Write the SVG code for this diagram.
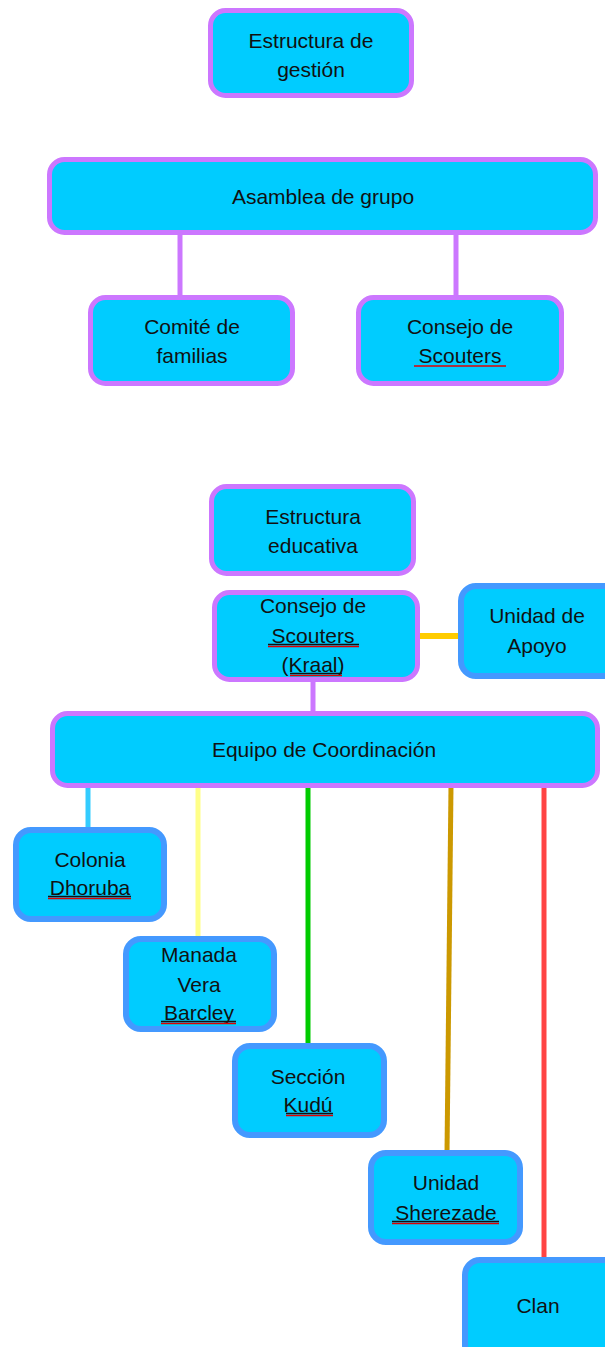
<svg xmlns="http://www.w3.org/2000/svg" width="605" height="1347" viewBox="0 0 605 1347">
<style>
.np{fill:#00CCFF;stroke:#CC77FF;stroke-width:5}
.nb{fill:#00CCFF;stroke:#4499FF;stroke-width:6}
text{font-family:"Liberation Sans",Arial,sans-serif;font-size:21px;fill:#111;text-anchor:middle}
.ul{stroke:#111;stroke-width:1.3}
.sp{stroke:#E00000;stroke-width:1.5}
.cp{stroke:#CC77FF;stroke-width:5;fill:none}
</style>
<rect width="605" height="1347" fill="#fff"/>
<g id="connectors">
<line class="cp" x1="180" y1="234" x2="180" y2="298"/>
<line class="cp" x1="456" y1="234" x2="456" y2="298"/>
<line class="cp" x1="313" y1="680" x2="313" y2="714"/>
<line x1="418" y1="636" x2="462" y2="636" stroke="#FFCC00" stroke-width="6"/>
<line x1="88" y1="786" x2="88" y2="830" stroke="#33CCFF" stroke-width="5"/>
<line x1="198" y1="786" x2="198" y2="939" stroke="#FFFF88" stroke-width="5"/>
<line x1="308" y1="786" x2="308" y2="1046" stroke="#00CC00" stroke-width="5"/>
<line x1="451" y1="786" x2="447" y2="1153" stroke="#CC9900" stroke-width="5"/>
<line x1="544" y1="786" x2="544" y2="1260" stroke="#FF4444" stroke-width="5"/>
</g>
<g id="estructura-gestion">
<rect class="np" x="210.5" y="10.5" width="201" height="85" rx="15"/>
<text x="311" y="48">Estructura de</text>
<text x="311" y="77">gestión</text>
</g>
<g id="asamblea">
<rect class="np" x="49.5" y="159.5" width="546" height="73" rx="15"/>
<text x="323" y="204">Asamblea de grupo</text>
</g>
<g id="comite">
<rect class="np" x="90.5" y="297.5" width="202" height="86" rx="15"/>
<text x="192" y="334">Comité de</text>
<text x="192" y="363">familias</text>
</g>
<g id="consejo-gestion">
<rect class="np" x="358.5" y="297.5" width="203" height="86" rx="15"/>
<text x="460" y="334">Consejo de</text>
<text x="460" y="363">Scouters</text>
<line class="sp" x1="414" y1="366" x2="506" y2="366"/>
</g>
<g id="estructura-educativa">
<rect class="np" x="211.5" y="486.5" width="202" height="87" rx="15"/>
<text x="313" y="524">Estructura</text>
<text x="313" y="553">educativa</text>
</g>
<g id="kraal">
<rect class="np" x="214.5" y="592.5" width="203" height="87" rx="15"/>
<text x="313" y="613">Consejo de</text>
<text x="313" y="643">Scouters</text>
<text x="313" y="672">(Kraal)</text>
<line class="ul" x1="268" y1="644.5" x2="359" y2="644.5"/>
<line class="sp" x1="268" y1="646.5" x2="359" y2="646.5"/>
<line class="ul" x1="290" y1="673.5" x2="342" y2="673.5"/>
<line class="sp" x1="290" y1="675.5" x2="342" y2="675.5"/>
</g>
<g id="unidad-apoyo">
<rect class="nb" x="461" y="586" width="170" height="90" rx="15"/>
<text x="537" y="623">Unidad de</text>
<text x="537" y="653">Apoyo</text>
</g>
<g id="equipo">
<rect class="np" x="52.5" y="713.5" width="545" height="72" rx="15"/>
<text x="324" y="757">Equipo de Coordinación</text>
</g>
<g id="colonia">
<rect class="nb" x="16" y="830" width="148" height="89" rx="15"/>
<text x="90" y="867">Colonia</text>
<text x="90" y="895">Dhoruba</text>
<line class="ul" x1="48" y1="896.5" x2="131" y2="896.5"/>
<line class="sp" x1="48" y1="898.5" x2="131" y2="898.5"/>
</g>
<g id="manada">
<rect class="nb" x="126" y="939" width="148" height="90" rx="15"/>
<text x="199" y="962">Manada</text>
<text x="199" y="992">Vera</text>
<text x="199" y="1020">Barcley</text>
<line class="ul" x1="161" y1="1021.5" x2="236" y2="1021.5"/>
<line class="sp" x1="161" y1="1023.5" x2="236" y2="1023.5"/>
</g>
<g id="seccion">
<rect class="nb" x="235" y="1046" width="149" height="89" rx="15"/>
<text x="308" y="1084">Sección</text>
<text x="308" y="1112">Kudú</text>
<line class="ul" x1="286" y1="1113.5" x2="333" y2="1113.5"/>
<line class="sp" x1="286" y1="1115.5" x2="333" y2="1115.5"/>
</g>
<g id="sherezade">
<rect class="nb" x="371" y="1153" width="149" height="89" rx="15"/>
<text x="446" y="1190">Unidad</text>
<text x="446" y="1220">Sherezade</text>
<line class="ul" x1="392" y1="1221.5" x2="499" y2="1221.5"/>
<line class="sp" x1="392" y1="1223.5" x2="499" y2="1223.5"/>
</g>
<g id="clan">
<rect class="nb" x="465" y="1260" width="160" height="100" rx="15"/>
<text x="538" y="1313">Clan</text>
</g>
</svg>
